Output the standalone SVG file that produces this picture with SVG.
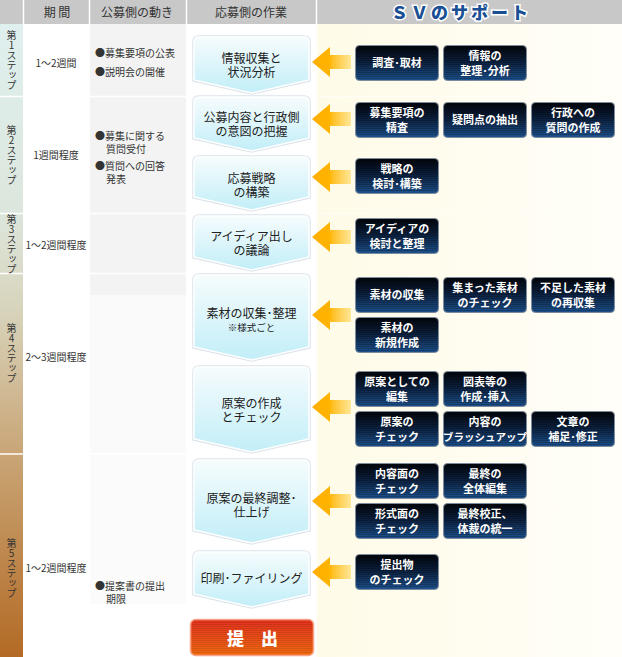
<svg xmlns="http://www.w3.org/2000/svg" width="622" height="657" viewBox="0 0 622 657">
<defs>
<style>
text{font-family:"Noto Sans CJK JP","Noto Sans",sans-serif}
.hd{font-size:12px;fill:#333;text-anchor:middle}
.sv{font-size:17px;font-weight:900;fill:#1a4f94;stroke:#fff;stroke-width:3;paint-order:stroke;text-anchor:middle;letter-spacing:3px}
.step{font-size:10px;fill:#333;writing-mode:vertical-rl;text-orientation:upright;text-anchor:middle}
.per{font-size:10px;fill:#333;text-anchor:middle}
.act{font-size:10px;fill:#333}
.chev{fill:url(#chevG);stroke:#fff;stroke-width:1.5}
.chevsh{fill:none;stroke:#dbe4ea;stroke-width:3.5}
.mt{font-size:12px;fill:#222;text-anchor:middle}
.db rect.b{fill:url(#darkG);stroke:#7d8a99;stroke-width:1}
.db rect.s{fill:url(#scan);stroke:none}
.dt{font-size:11px;font-weight:bold;fill:#fff;text-anchor:middle}
.arr{fill:url(#arrG)}
.sep{stroke:#fff;stroke-width:1.5}
</style>
<linearGradient id="stepG" x1="0" y1="24" x2="0" y2="657" gradientUnits="userSpaceOnUse">
<stop offset="0" stop-color="#dff0ef"/>
<stop offset="0.3" stop-color="#dce6dc"/>
<stop offset="0.45" stop-color="#d8d4bc"/>
<stop offset="0.68" stop-color="#c9a576"/>
<stop offset="1" stop-color="#b36a25"/>
</linearGradient>
<linearGradient id="svBg" x1="316" y1="0" x2="622" y2="0" gradientUnits="userSpaceOnUse">
<stop offset="0" stop-color="#fffbe8"/>
<stop offset="1" stop-color="#fffef8"/>
</linearGradient>
<linearGradient id="chevG" x1="0" y1="0" x2="0" y2="1">
<stop offset="0" stop-color="#f6fcfd"/>
<stop offset="1" stop-color="#c2eef8"/>
</linearGradient>
<linearGradient id="darkG" x1="0" y1="0" x2="0" y2="1">
<stop offset="0" stop-color="#02050a"/>
<stop offset="0.45" stop-color="#0b1f3c"/>
<stop offset="1" stop-color="#1d528f"/>
</linearGradient>
<pattern id="scan" width="4" height="2" patternUnits="userSpaceOnUse">
<rect width="4" height="1" fill="#000" opacity="0.22"/>
</pattern>
<linearGradient id="arrG" x1="312" y1="0" x2="352" y2="0" gradientUnits="userSpaceOnUse">
<stop offset="0" stop-color="#ffae00"/>
<stop offset="0.45" stop-color="#ffb400"/>
<stop offset="0.5" stop-color="#ffbe20"/>
<stop offset="1" stop-color="#ffeaa0"/>
</linearGradient>
<linearGradient id="redG" x1="0" y1="0" x2="0" y2="1">
<stop offset="0" stop-color="#e2321e"/>
<stop offset="1" stop-color="#f36a10"/>
</linearGradient>
</defs>

<!-- backgrounds -->
<rect x="0" y="0" width="622" height="657" fill="#fff"/>
<rect x="0" y="0" width="622" height="24" fill="#c8c8c8"/>
<rect x="317" y="24" width="305" height="633" fill="url(#svBg)"/>
<rect x="0" y="24" width="23" height="633" fill="url(#stepG)"/>
<rect x="90" y="24" width="96" height="72" fill="#f3f3f3"/>
<rect x="90" y="97" width="96" height="116" fill="#f3f3f3"/>
<rect x="90" y="214" width="96" height="59" fill="#f3f3f3"/>
<rect x="90" y="274" width="96" height="21" fill="#f3f3f3"/>
<rect x="90" y="295" width="96" height="158" fill="#fafafa"/>
<rect x="90" y="455" width="96" height="149" fill="#fbfbfb"/>
<g id="separators">
<line class="sep" x1="23.5" y1="0" x2="23.5" y2="24"/>
<line class="sep" x1="89.5" y1="0" x2="89.5" y2="24"/>
<line class="sep" x1="186.5" y1="0" x2="186.5" y2="24"/>
<line class="sep" x1="316.5" y1="0" x2="316.5" y2="24"/>
<line class="sep" x1="0" y1="96.5" x2="186" y2="96.5"/>
<line class="sep" x1="0" y1="213.5" x2="186" y2="213.5"/>
<line class="sep" x1="0" y1="273.5" x2="186" y2="273.5"/>
<line class="sep" x1="0" y1="454" x2="186" y2="454"/>
<line x1="317" y1="96.5" x2="622" y2="96.5" stroke="#fffef6" stroke-width="1"/>
<line x1="317" y1="213.5" x2="622" y2="213.5" stroke="#fffef6" stroke-width="1"/>
</g>

<!-- header -->
<g id="header">
<text class="hd" x="57" y="17">期 間</text>
<text class="hd" x="137" y="17">公募側の動き</text>
<text class="hd" x="251" y="17">応募側の作業</text>
<text class="sv" x="461" y="19">ＳＶのサポート</text>
</g>

<!-- steps -->
<g id="steps">
<text class="step" x="11.5" y="60">第1ステップ</text>
<text class="step" x="11.5" y="155">第2ステップ</text>
<text class="step" x="11.5" y="244">第3ステップ</text>
<text class="step" x="11.5" y="353">第4ステップ</text>
<text class="step" x="11.5" y="568">第5ステップ</text>
</g>

<g id="periods">
<text class="per" x="56" y="67">1〜2週間</text>
<text class="per" x="56" y="159">1週間程度</text>
<text class="per" x="56" y="249">1〜2週間程度</text>
<text class="per" x="56" y="361">2〜3週間程度</text>
<text class="per" x="56" y="572">1〜2週間程度</text>
</g>

<g id="applicant-actions">
<text class="act" x="95" y="57">●募集要項の公表</text>
<text class="act" x="95" y="76">●説明会の開催</text>
<text class="act" x="95" y="140">●募集に関する</text>
<text class="act" x="106" y="152.5">質問受付</text>
<text class="act" x="95" y="170">●質問への回答</text>
<text class="act" x="106" y="182.5">発表</text>
<text class="act" x="95" y="590">●提案書の提出</text>
<text class="act" x="106" y="602.5">期限</text>
</g>

<!-- main task chevrons -->
<g id="task1">
<path class="chevsh" d="M194,42 Q194,37 199,37 H304 Q309,37 309,42 V80 L251.5,93 L194,80 Z"/>
<path class="chev" d="M194,42 Q194,37 199,37 H304 Q309,37 309,42 V80 L251.5,93 L194,80 Z"/>
<text class="mt" x="251.5" y="63">情報収集と</text>
<text class="mt" x="251.5" y="77">状況分析</text>
</g>
<g id="task2">
<path class="chevsh" d="M194,102 Q194,97 199,97 H304 Q309,97 309,102 V138 L251.5,151 L194,138 Z"/>
<path class="chev" d="M194,102 Q194,97 199,97 H304 Q309,97 309,102 V138 L251.5,151 L194,138 Z"/>
<text class="mt" x="251.5" y="122">公募内容と行政側</text>
<text class="mt" x="251.5" y="136">の意図の把握</text>
</g>
<g id="task3">
<path class="chevsh" d="M194,162 Q194,157 199,157 H304 Q309,157 309,162 V197 L251.5,210 L194,197 Z"/>
<path class="chev" d="M194,162 Q194,157 199,157 H304 Q309,157 309,162 V197 L251.5,210 L194,197 Z"/>
<text class="mt" x="251.5" y="183">応募戦略</text>
<text class="mt" x="251.5" y="197">の構築</text>
</g>
<g id="task4">
<path class="chevsh" d="M194,221 Q194,216 199,216 H304 Q309,216 309,221 V257 L251.5,270 L194,257 Z"/>
<path class="chev" d="M194,221 Q194,216 199,216 H304 Q309,216 309,221 V257 L251.5,270 L194,257 Z"/>
<text class="mt" x="251.5" y="241">アイディア出し</text>
<text class="mt" x="251.5" y="255">の議論</text>
</g>
<g id="task5">
<path class="chevsh" d="M194,280 Q194,275 199,275 H304 Q309,275 309,280 V347 L251.5,360 L194,347 Z"/>
<path class="chev" d="M194,280 Q194,275 199,275 H304 Q309,275 309,280 V347 L251.5,360 L194,347 Z"/>
<text class="mt" x="251.5" y="318">素材の収集･整理</text>
<text class="mt" x="251.5" y="331" style="font-size:9.5px">※様式ごと</text>
</g>
<g id="task6">
<path class="chevsh" d="M194,372 Q194,367 199,367 H304 Q309,367 309,372 V439 L251.5,452 L194,439 Z"/>
<path class="chev" d="M194,372 Q194,367 199,367 H304 Q309,367 309,372 V439 L251.5,452 L194,439 Z"/>
<text class="mt" x="251.5" y="408">原案の作成</text>
<text class="mt" x="251.5" y="422">とチェック</text>
</g>
<g id="task7">
<path class="chevsh" d="M194,465 Q194,460 199,460 H304 Q309,460 309,465 V530 L251.5,543 L194,530 Z"/>
<path class="chev" d="M194,465 Q194,460 199,460 H304 Q309,460 309,465 V530 L251.5,543 L194,530 Z"/>
<text class="mt" x="251.5" y="503">原案の最終調整･</text>
<text class="mt" x="251.5" y="517">仕上げ</text>
</g>
<g id="task8">
<path class="chevsh" d="M194,557 Q194,552 199,552 H304 Q309,552 309,557 V594 L251.5,607 L194,594 Z"/>
<path class="chev" d="M194,557 Q194,552 199,552 H304 Q309,552 309,557 V594 L251.5,607 L194,594 Z"/>
<text class="mt" x="251.5" y="583">印刷･ファイリング</text>
</g>
<g id="submit">
<rect x="190.5" y="619.5" width="123" height="36" rx="5" fill="url(#redG)" stroke="#f4a58a" stroke-width="1.5"/>
<rect x="192" y="621" width="120" height="33" rx="4" fill="url(#scan)" opacity="0.5"/>
<text x="252.5" y="645" style="font-size:17px;font-weight:900;fill:#fff;text-anchor:middle">提　出</text>
</g>

<!-- connectors: support arrows -->
<g id="connectors">
<path class="arr" d="M312,62 L330,47 V55 H351 V69 H330 V77 Z"/>
<path class="arr" d="M312,119 L330,104 V112 H351 V126 H330 V134 Z"/>
<path class="arr" d="M312,177 L330,162 V170 H351 V184 H330 V192 Z"/>
<path class="arr" d="M312,237 L330,222 V230 H351 V244 H330 V252 Z"/>
<path class="arr" d="M312,315 L330,300 V308 H351 V322 H330 V330 Z"/>
<path class="arr" d="M312,407 L330,392 V400 H351 V414 H330 V422 Z"/>
<path class="arr" d="M312,501 L330,486 V494 H351 V508 H330 V516 Z"/>
<path class="arr" d="M312,572 L330,557 V565 H351 V579 H330 V587 Z"/>
</g>

<!-- SV support boxes -->
<g id="sv1a" class="db"><rect class="b" x="355.5" y="45.5" width="83" height="35" rx="4"/><rect class="s" x="357" y="47" width="80" height="32"/><text class="dt" x="397" y="67">調査･取材</text></g>
<g id="sv1b" class="db"><rect class="b" x="443.5" y="45.5" width="83" height="35" rx="4"/><rect class="s" x="445" y="47" width="80" height="32"/><text class="dt" x="485" y="60">情報の</text><text class="dt" x="485" y="75">整理･分析</text></g>

<g id="sv2a" class="db"><rect class="b" x="355.5" y="102.5" width="83" height="35" rx="4"/><rect class="s" x="357" y="104" width="80" height="32"/><text class="dt" x="397" y="117">募集要項の</text><text class="dt" x="397" y="132">精査</text></g>
<g id="sv2b" class="db"><rect class="b" x="443.5" y="102.5" width="83" height="35" rx="4"/><rect class="s" x="445" y="104" width="80" height="32"/><text class="dt" x="485" y="124">疑問点の抽出</text></g>
<g id="sv2c" class="db"><rect class="b" x="531.5" y="102.5" width="83" height="35" rx="4"/><rect class="s" x="533" y="104" width="80" height="32"/><text class="dt" x="573" y="117">行政への</text><text class="dt" x="573" y="132">質問の作成</text></g>

<g id="sv3a" class="db"><rect class="b" x="355.5" y="158.5" width="83" height="35" rx="4"/><rect class="s" x="357" y="160" width="80" height="32"/><text class="dt" x="397" y="173">戦略の</text><text class="dt" x="397" y="188">検討･構築</text></g>

<g id="sv4a" class="db"><rect class="b" x="355.5" y="218.5" width="83" height="35" rx="4"/><rect class="s" x="357" y="220" width="80" height="32"/><text class="dt" x="397" y="233">アイディアの</text><text class="dt" x="397" y="248">検討と整理</text></g>

<g id="sv5a" class="db"><rect class="b" x="355.5" y="277.5" width="83" height="35" rx="4"/><rect class="s" x="357" y="279" width="80" height="32"/><text class="dt" x="397" y="299">素材の収集</text></g>
<g id="sv5b" class="db"><rect class="b" x="443.5" y="277.5" width="83" height="35" rx="4"/><rect class="s" x="445" y="279" width="80" height="32"/><text class="dt" x="485" y="292">集まった素材</text><text class="dt" x="485" y="307">のチェック</text></g>
<g id="sv5c" class="db"><rect class="b" x="531.5" y="277.5" width="83" height="35" rx="4"/><rect class="s" x="533" y="279" width="80" height="32"/><text class="dt" x="573" y="292">不足した素材</text><text class="dt" x="573" y="307">の再収集</text></g>
<g id="sv5d" class="db"><rect class="b" x="355.5" y="317.5" width="83" height="35" rx="4"/><rect class="s" x="357" y="319" width="80" height="32"/><text class="dt" x="397" y="332">素材の</text><text class="dt" x="397" y="347">新規作成</text></g>

<g id="sv6a" class="db"><rect class="b" x="355.5" y="371.5" width="83" height="35" rx="4"/><rect class="s" x="357" y="373" width="80" height="32"/><text class="dt" x="397" y="386">原案としての</text><text class="dt" x="397" y="401">編集</text></g>
<g id="sv6b" class="db"><rect class="b" x="443.5" y="371.5" width="83" height="35" rx="4"/><rect class="s" x="445" y="373" width="80" height="32"/><text class="dt" x="485" y="386">図表等の</text><text class="dt" x="485" y="401">作成･挿入</text></g>
<g id="sv6c" class="db"><rect class="b" x="355.5" y="411.5" width="83" height="35" rx="4"/><rect class="s" x="357" y="413" width="80" height="32"/><text class="dt" x="397" y="426">原案の</text><text class="dt" x="397" y="441">チェック</text></g>
<g id="sv6d" class="db"><rect class="b" x="443.5" y="411.5" width="83" height="35" rx="4"/><rect class="s" x="445" y="413" width="80" height="32"/><text class="dt" x="485" y="426">内容の</text><text class="dt" x="485" y="441" style="font-size:10.5px">ブラッシュアップ</text></g>
<g id="sv6e" class="db"><rect class="b" x="531.5" y="411.5" width="83" height="35" rx="4"/><rect class="s" x="533" y="413" width="80" height="32"/><text class="dt" x="573" y="426">文章の</text><text class="dt" x="573" y="441">補足･修正</text></g>

<g id="sv7a" class="db"><rect class="b" x="355.5" y="463.5" width="83" height="35" rx="4"/><rect class="s" x="357" y="465" width="80" height="32"/><text class="dt" x="397" y="478">内容面の</text><text class="dt" x="397" y="493">チェック</text></g>
<g id="sv7b" class="db"><rect class="b" x="443.5" y="463.5" width="83" height="35" rx="4"/><rect class="s" x="445" y="465" width="80" height="32"/><text class="dt" x="485" y="478">最終の</text><text class="dt" x="485" y="493">全体編集</text></g>
<g id="sv7c" class="db"><rect class="b" x="355.5" y="503.5" width="83" height="35" rx="4"/><rect class="s" x="357" y="505" width="80" height="32"/><text class="dt" x="397" y="518">形式面の</text><text class="dt" x="397" y="533">チェック</text></g>
<g id="sv7d" class="db"><rect class="b" x="443.5" y="503.5" width="83" height="35" rx="4"/><rect class="s" x="445" y="505" width="80" height="32"/><text class="dt" x="485" y="518">最終校正、</text><text class="dt" x="485" y="533">体裁の統一</text></g>

<g id="sv8a" class="db"><rect class="b" x="355.5" y="554.5" width="83" height="35" rx="4"/><rect class="s" x="357" y="556" width="80" height="32"/><text class="dt" x="397" y="569">提出物</text><text class="dt" x="397" y="584">のチェック</text></g>
</svg>
